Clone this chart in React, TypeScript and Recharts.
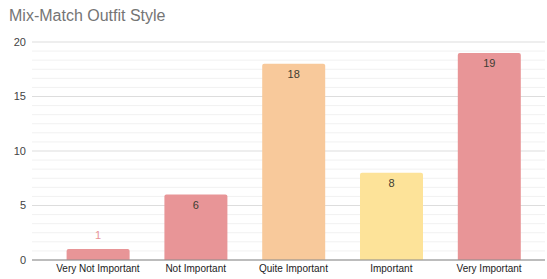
import React from "react";
import { Bar, BarChart, CartesianGrid, Cell, LabelList, XAxis, YAxis } from "recharts";

const categories = ["Very Not Important", "Not Important", "Quite Important", "Important", "Very Important"];
const counts = [1, 6, 18, 8, 19];
const barColors = ["#e89597", "#e89597", "#f8c99b", "#fde399", "#e89597"];
const yMax = 20;
const majorTicks = [0, 5, 10, 15, 20];
// 6 minor steps between each pair of major lines
const minorTicks = Array.from({ length: 25 }, (_, i) => (i * 5) / 6).filter((_, i) => i % 6 !== 0);

const data = categories.map((name, i) => ({ name, count: counts[i], color: barColors[i] }));

const font = "'Liberation Sans', Arial, sans-serif";

function minorLines({ yAxis, offset }: any) {
  const scale = yAxis && typeof yAxis.scale === "function" ? yAxis.scale : null;
  return minorTicks.map((v) =>
    scale ? scale(v) : offset.top + offset.height * (1 - v / yMax)
  );
}

function ValueLabel(props: any) {
  const { x, y, width, height, value, index } = props;
  const cx = Number(x) + Number(width) / 2;
  if (Number(height) < 22) {
    return (
      <text x={cx} y={Number(y) - 10} textAnchor="middle" fontSize={11} fill={barColors[index]} fontFamily={font}>
        {value}
      </text>
    );
  }
  return (
    <text x={cx} y={Number(y) + 14} textAnchor="middle" fontSize={11} fill="#3d3d33" fontFamily={font}>
      {value}
    </text>
  );
}

export default function App() {
  return (
    <div style={{ position: "absolute", left: 0, top: 0, width: 547, height: 279, background: "#fff", fontFamily: font }}>
      <div style={{ position: "absolute", left: 9, top: 6, fontSize: 16, lineHeight: "20px", color: "#757575" }}>
        Mix-Match Outfit Style
      </div>
      <BarChart
        width={547}
        height={279}
        data={data}
        margin={{ top: 42, right: 2, left: 0, bottom: 0 }}
        barCategoryGap="18%"
      >
        <CartesianGrid vertical={false} stroke="#f1f1f1" horizontalCoordinatesGenerator={minorLines} />
        <CartesianGrid vertical={false} stroke="#dddddd" />
        <XAxis
          dataKey="name"
          height={19}
          padding={{ left: 17, right: 7 }}
          tick={{ fontSize: 10, fill: "#222", fontFamily: font }}
          tickLine={false}
          axisLine={{ stroke: "#8a8a8a" }}
          tickSize={0}
          tickMargin={5}
          interval={0}
        />
        <YAxis
          domain={[0, yMax]}
          ticks={majorTicks}
          width={32}
          tick={{ fontSize: 11, fill: "#444", fontFamily: font }}
          tickLine={false}
          axisLine={false}
          tickSize={4}
          tickMargin={2}
        />
        <Bar dataKey="count" isAnimationActive={false} radius={[2, 2, 0, 0]}>
          {data.map((d) => (
            <Cell key={d.name} fill={d.color} />
          ))}
          <LabelList dataKey="count" content={ValueLabel} />
        </Bar>
      </BarChart>
    </div>
  );
}
